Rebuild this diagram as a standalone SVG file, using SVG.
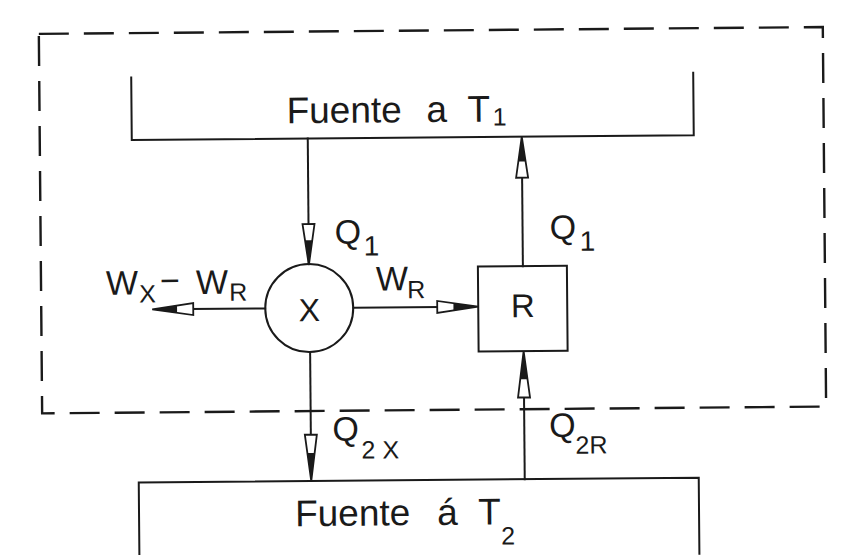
<svg xmlns="http://www.w3.org/2000/svg" width="863" height="555" viewBox="0 0 863 555">
<style>
.ln{fill:none;stroke:#1a1a1a;stroke-width:2;stroke-linecap:square}
.dash{fill:none;stroke:#1a1a1a;stroke-width:2.4;stroke-dasharray:30 15}
.t{font-family:"Liberation Sans",Arial,sans-serif;fill:#1a1a1a}
.big{font-size:37px}
.lbl{font-size:34px}
.sub{font-size:25px}
.sub2{font-size:28px}
</style>
<defs>
<g id="arr">
<path d="M0,0 L-41,-6 L-41,6 Z" fill="#fff" stroke="#1a1a1a" stroke-width="1.8" stroke-linejoin="miter"/>
<path d="M0,0 L-24,-3.6 L-24,3.6 Z" fill="#1a1a1a"/>
<path d="M-24,-3.6 V3.6" stroke="#1a1a1a" stroke-width="1.6"/>
</g>
</defs>
<rect width="863" height="555" fill="#fff"/>
<g transform="rotate(-0.5 430 280)">
<g id="boundary">
<path class="dash" d="M41,30.5 H825 V410 H41 Z"/>
</g>
<g id="source-T1">
<path class="ln" d="M133,75 V137.5 H695 V75"/>
<text class="t big" x="288" y="122">Fuente</text>
<text class="t big" x="428" y="122">a</text>
<text class="t big" x="469" y="122">T</text>
<text class="t sub" x="494" y="126">1</text>
</g>
<g id="source-T2">
<path class="ln" d="M137,556 V480 H697 V556"/>
<text class="t big" x="293" y="525">Fuente</text>
<text class="t big" x="435" y="525">á</text>
<text class="t big" x="476" y="525">T</text>
<text class="t sub" x="499" y="545">2</text>
</g>
<g id="engine-X">
<circle class="ln" cx="309" cy="307" r="44"/>
<text class="t" font-size="32" x="309" y="320" text-anchor="middle">X</text>
</g>
<g id="refrigerator-R">
<rect class="ln" x="478" y="267" width="89" height="85"/>
<text class="t" font-size="33" x="522.5" y="318" text-anchor="middle">R</text>
</g>
<g id="connectors">
<path class="ln" d="M309,137.5 V263"/>
<use href="#arr" transform="translate(309,264) rotate(90)"/>
<path class="ln" d="M265,307 H190"/>
<use href="#arr" transform="translate(152,307) rotate(180)"/>
<path class="ln" d="M353,307 H440"/>
<use href="#arr" transform="translate(478,307)"/>
<path class="ln" d="M523,267 V175"/>
<use href="#arr" transform="translate(523,137.5) rotate(-90)"/>
<path class="ln" d="M309.5,351 V435"/>
<use href="#arr" transform="translate(309.5,480) rotate(90) scale(1.13,1)"/>
<path class="ln" d="M523,480 V396"/>
<use href="#arr" transform="translate(523,352) rotate(-90) scale(1.13,1)"/>
</g>
<g id="labels">
<text class="t lbl" x="335" y="243">Q</text>
<text class="t sub2" x="364" y="255">1</text>
<text class="t lbl" x="550" y="240">Q</text>
<text class="t sub2" x="580" y="252">1</text>
<text class="t lbl" x="106" y="292">W</text>
<text class="t sub" x="139" y="300">X</text>
<text class="t lbl" x="160" y="290">−</text>
<text class="t lbl" x="196" y="292">W</text>
<text class="t sub" x="229" y="299">R</text>
<text class="t lbl" x="376" y="290">W</text>
<text class="t sub" x="407" y="298">R</text>
<text class="t lbl" x="331" y="440">Q</text>
<text class="t sub" x="360" y="458">2</text>
<text class="t sub" x="381" y="458">X</text>
<text class="t lbl" x="548" y="438">Q</text>
<text class="t sub" x="574" y="455">2R</text>
</g>
</g>
</svg>
